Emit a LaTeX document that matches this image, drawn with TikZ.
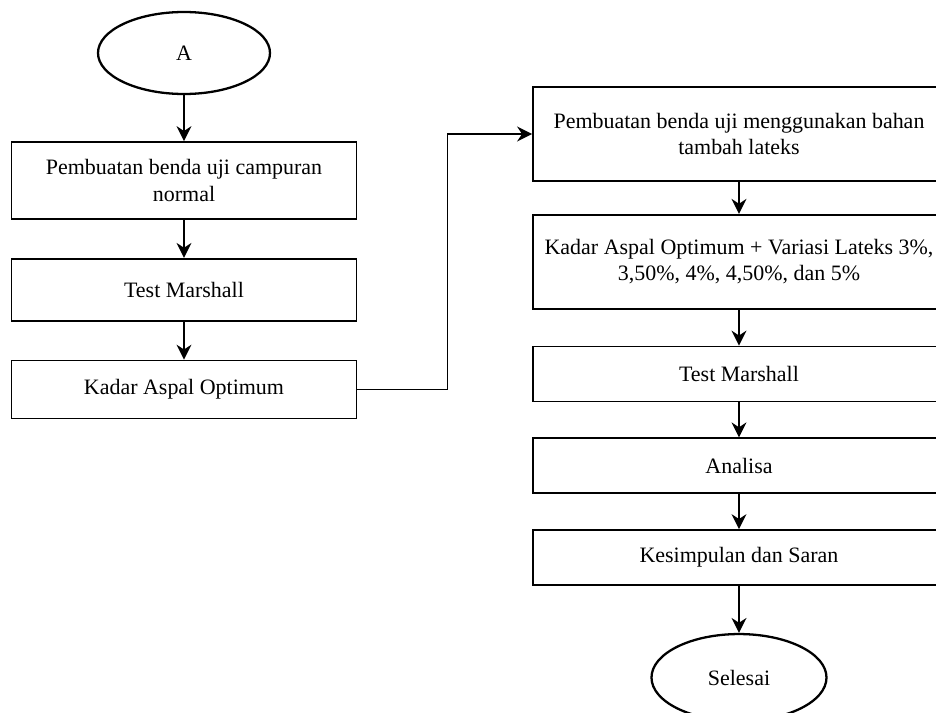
\documentclass[tikz,border=0pt]{standalone}
\usepackage{fontspec}
\setmainfont{Liberation Serif}
\usetikzlibrary{positioning,shapes.geometric,arrows.meta}
\tikzset{
  kotak/.style={rectangle, minimum height=1.1cm, text centered, align=center, draw=black, line width=1pt},
  kiri/.style={kotak, minimum width=6.9cm},
  kanan/.style={kotak, minimum width=8.24cm},
  oval/.style={ellipse, text centered, draw=black, line width=1.3pt},
  panah/.style={-{Stealth[length=0.3cm,width=0.3cm]}, line width=1pt},
  node distance=7mm
}
\begin{document}
\begin{tikzpicture}[font=\fontsize{12.5}{15}\selectfont]
	\useasboundingbox (0,0) rectangle (18.72,-14.26);
	\node[oval, minimum width=3.44cm, minimum height=1.64cm] (mulai) at (3.68,-1.06) {A};
	\node[kiri, minimum height=1.54cm, below=0.92cm of mulai.south, anchor=north] (bendaN) {Pembuatan benda uji campuran\\normal};
	\node[kiri, minimum height=1.24cm, below=0.76cm of bendaN] (marshallA) {Test Marshall};
	\node[kiri, minimum height=1.16cm, below=0.76cm of marshallA] (kao) {Kadar Aspal Optimum};

	\node[kanan, minimum height=1.88cm] (bendaL) at (14.78,-2.68) {Pembuatan benda uji menggunakan bahan\\tambah lateks};
	\node[kanan, minimum height=1.88cm, below=0.64cm of bendaL] (variasi) {Kadar Aspal Optimum + Variasi Lateks 3\%,\\3,50\%, 4\%, 4,50\%, dan 5\%};
	\node[kanan, below=0.72cm of variasi] (marshallB) {Test Marshall};
	\node[kanan, below=0.70cm of marshallB] (analisa) {Analisa};
	\node[kanan, below=0.70cm of analisa] (simpulan) {Kesimpulan dan Saran};
	\node[oval, minimum width=3.5cm, minimum height=1.74cm, below=0.94cm of simpulan] (selesai) {Selesai};
	%
	\draw[panah] (mulai) -- (bendaN);
	\draw[panah] (bendaN) -- (marshallA);
	\draw[panah] (marshallA) -- (kao);
	\draw[panah] (kao.east) -- ++(1.8,0) |- (bendaL.west);

	\draw[panah] (bendaL) -- (variasi);
	\draw[panah] (variasi) -- (marshallB);
	\draw[panah] (marshallB) -- (analisa);
	\draw[panah] (analisa) -- (simpulan);
	\draw[panah] (simpulan) -- (selesai);
\end{tikzpicture}
\end{document}
